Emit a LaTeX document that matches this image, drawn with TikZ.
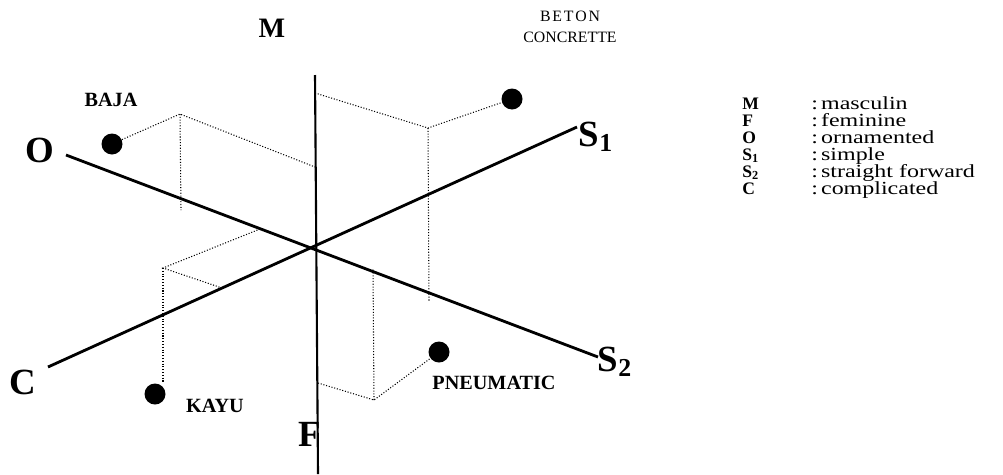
\documentclass[tikz,border=0pt]{standalone}
\usepackage{fontspec}
\setmainfont{Liberation Serif}
\newfontfamily\keyfont[FakeStretch=1.3]{Liberation Serif}
\newfontfamily\spacedfont[LetterSpace=12]{Liberation Serif}
\begin{document}
\begin{tikzpicture}[x=0.02cm,y=-0.02cm,
  axis/.style={line width=1.6pt},
  guide/.style={densely dotted,line width=0.6pt},
  spot/.style={circle,fill,inner sep=0pt,minimum size=0.42cm},
  axlabel/.style={font=\bfseries\fontsize{21}{21}\selectfont,inner sep=0pt},
  matlabel/.style={font=\bfseries\fontsize{11.5}{11.5}\selectfont,inner sep=0pt},
  keysym/.style={font=\bfseries\fontsize{10}{10}\selectfont,anchor=base west,inner sep=0pt},
  keytxt/.style={font=\keyfont\fontsize{10.5}{10.5}\selectfont,anchor=base west,inner sep=0pt}]
\useasboundingbox (0,0) rectangle (1003,474);
% axes
\coordinate (m) at (315,75);
\coordinate (f) at (318,474);
\coordinate (o) at (66,155);
\coordinate (s2) at (598,357);
\coordinate (c) at (48,367);
\coordinate (s1) at (577,127);
\draw[axis] (o) -- (s2);
\draw[axis] (c) -- (s1);
\draw[line width=1.2pt] (m) -- (f);
\node[axlabel,font=\bfseries\fontsize{16}{16}\selectfont] (mlab) at (272,28) {M};
\node[axlabel] (olab) at (40,150) {O};
\node[axlabel] (s1lab) at (596,137) {S\textsubscript{1}};
\node[axlabel] (s2lab) at (615,362) {S\textsubscript{2}};
\node[axlabel] (clab) at (23,382) {C};
\node[axlabel] (flab) at (310,434) {F};
% baja
\node[spot] (baja) at (112,144) {};
\node[matlabel] (bajalab) at (111,100) {BAJA};
\coordinate (bajaup) at (180,114);
\coordinate (bajam) at (315,167);
\coordinate (bajao) at (181,210);
\draw[guide] (baja) -- (bajaup) -- (bajam);
\draw[guide] (bajaup) -- (bajao);
% beton
\node[spot] (beton) at (512,99) {};
\node[font=\fontsize{9}{12}\selectfont,align=center,inner sep=0pt] (betonlab) at (570,27) {{\spacedfont BETON}\\CONCRETTE};
\coordinate (betonup) at (428,128);
\coordinate (betonm) at (315,93);
\coordinate (betonlow) at (429,302);
\draw[guide] (betonm) -- (betonup) -- (beton);
\draw[guide] (betonup) -- (betonlow);
% kayu
\node[spot] (kayu) at (155,394) {};
\node[matlabel] (kayulab) at (215,406) {KAYU};
\coordinate (kayuup) at (163,268);
\coordinate (kayuo) at (260,229);
\coordinate (kayuc) at (222,288);
\draw[guide] (kayuo) -- (kayuup) -- (kayuc);
\draw[guide] (kayuup) -- (kayuup |- kayu.north);
% pneumatic
\node[spot] (pneu) at (439,352) {};
\node[matlabel] (pneulab) at (494,383) {PNEUMATIC};
\coordinate (pneulow) at (374,400);
\coordinate (pneuf) at (318,383);
\coordinate (pneus) at (373,268);
\draw[guide] (pneuf) -- (pneulow) -- (pneu);
\draw[guide] (pneulow) -- (pneus);
% legend
\foreach \sym/\txt [count=\i] in {M/masculin,F/feminine,O/ornamented,S\textsubscript{1}/simple,S\textsubscript{2}/straight forward,C/complicated}{
  \node[keysym] (key\i) at (742,92+17*\i) {\smash{\sym}};
  \node[keytxt] (desc\i) at (811,92+17*\i) {:\,\txt};
}
\end{tikzpicture}
\end{document}
